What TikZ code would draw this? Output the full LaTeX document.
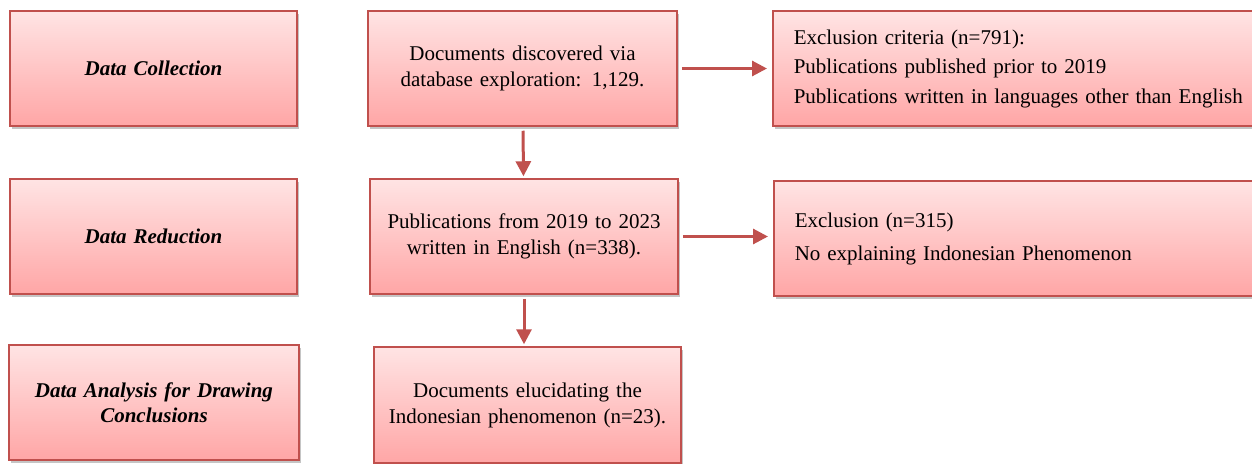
\documentclass[tikz,border=0pt]{standalone}
\usepackage{fontspec}
\setmainfont{Liberation Serif}
\usepackage{xcolor}
\usetikzlibrary{arrows.meta,positioning,calc,shadows}
\definecolor{boxtop}{RGB}{255,228,228}
\definecolor{boxbot}{RGB}{255,166,166}
\definecolor{boxline}{RGB}{192,80,77}
\tikzset{
  basebox/.style={draw=boxline, line width=1.5pt, top color=boxtop, bottom color=boxbot,
    drop shadow={shadow xshift=2pt, shadow yshift=-3pt, fill=black!45, opacity=.5},
    minimum height=115pt, font=\fontsize{21}{26}\selectfont},
  stagebox/.style={basebox, inner xsep=4pt, align=center, font=\fontsize{21}{24.5}\selectfont\bfseries\itshape},
  stepbox/.style={basebox, inner xsep=4pt, align=center},
  exclbox/.style={basebox, anchor=west, inner xsep=21pt, text width=470pt, align=left},
  arr/.style={-{Triangle[length=15pt,width=15pt]}, boxline, line width=3pt},
}
\begin{document}
\begin{tikzpicture}[x=1pt,y=-1pt]
  \useasboundingbox (0,0) rectangle (1252,463);
  % stages
  \node[stagebox, text width=279pt] (coll) at (153.5,68.5) {Data Collection};
  \node[stagebox, text width=279pt] (redu) at (153.5,236.5) {Data Reduction};
  \node[stagebox, text width=282pt] (anal) at (154,402.5) {Data Analysis for Drawing\\Conclusions};
  % steps
  \node[stepbox, text width=301pt] (found) at (522.5,68.5) {Documents discovered via\\database exploration: 1,129.};
  \node[stepbox, text width=300pt] (kept) at (524,236.5) {Publications from 2019 to 2023\\written in English (n=338).};
  \node[stepbox, text width=299pt, minimum height=116pt] (final) at (527.5,405) {Documents elucidating the\\Indonesian phenomenon (n=23).};
  % exclusions (run past the right edge)
  \node[exclbox] (excla) at (772,68.5) {Exclusion criteria (n=791):\\[3.5pt]Publications published prior to 2019\\[3.5pt]Publications written in languages other than English};
  \node[exclbox] (exclb) at (773,238.5) {Exclusion (n=315)\\[7pt]No explaining Indonesian Phenomenon};
  % arrows
  \draw[arr, shorten <=4pt, shorten >=5pt] (found) -- (excla.west |- found);
  \draw[arr, shorten <=4pt, shorten >=5pt] (kept) -- (exclb.west |- kept);
  \draw[arr, shorten <=4pt, shorten >=2pt] (found) -- (kept);
  \draw[arr, shorten <=4pt, shorten >=2pt] (kept.south) -- (kept.south |- final.north);
\end{tikzpicture}
\end{document}
